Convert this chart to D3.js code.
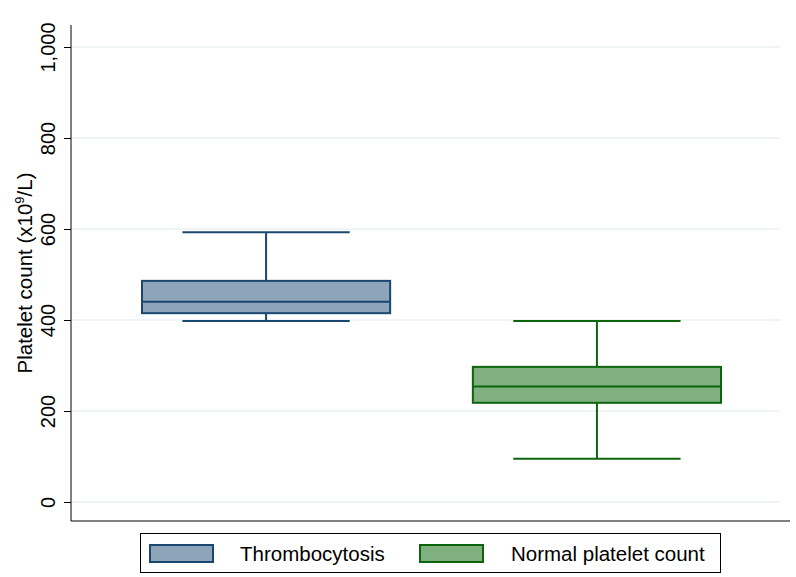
<!DOCTYPE html>
<html><head><meta charset="utf-8">
<script src="https://cdn.jsdelivr.net/npm/d3@7/dist/d3.min.js"></script>
<style>body{margin:0;background:#fff}svg{display:block}text{font-family:"Liberation Sans",Arial,sans-serif}</style>
</head><body><svg id="c" width="796" height="577"></svg>
<script>
const categories = ["Thrombocytosis", "Normal platelet count"];
const whiskerLow = [398, 95];
const q1 = [415, 218];
const median = [440, 254];
const q3 = [486, 297];
const whiskerHigh = [593, 398];
const yTicks = [0, 200, 400, 600, 800, 1000];
const fills = ["#8ea4b8", "#80b080"];
const strokes = ["#1a476f", "#0c640c"];

const svg = d3.select("#c");
const y = d3.scaleLinear().domain([0, 1000]).range([502, 47]);
const x = d3.scaleBand().domain(categories).range([142, 721]).paddingInner(0.25).paddingOuter(0);
const pLeft = 71, pRight = 790, pTop = 25, pBottom = 521;

// grid
svg.append("g").selectAll("line").data(yTicks).join("line")
  .attr("x1", pLeft + 1).attr("x2", 780)
  .attr("y1", d => y(d)).attr("y2", d => y(d))
  .attr("stroke", "#eaf2f3").attr("stroke-width", 1.5);

// axes
const ya = svg.append("g").attr("transform", `translate(${pLeft},0)`)
  .call(d3.axisLeft(y).tickValues(yTicks).tickSize(7).tickFormat(d3.format(",")));
ya.select(".domain").attr("d", `M0,${pTop}V${pBottom}`).attr("stroke", "#000");
ya.selectAll(".tick line").attr("stroke", "#000");
ya.selectAll(".tick text").attr("font-size", 20).attr("fill", "#000")
  .attr("transform", "rotate(-90)").attr("text-anchor", "middle")
  .attr("x", 0).attr("y", -16).attr("dy", "0");
svg.append("line").attr("x1", pLeft).attr("x2", pRight).attr("y1", pBottom).attr("y2", pBottom).attr("stroke", "#000");

// axis title
const t = svg.append("text").attr("transform", `translate(32,${(pTop + pBottom) / 2}) rotate(-90)`)
  .attr("text-anchor", "middle").attr("font-size", 20.5).attr("fill", "#000");
t.append("tspan").text("Platelet count (x10");
t.append("tspan").text("9").attr("font-size", 13).attr("dy", -8);
t.append("tspan").text("/L)").attr("dy", 8);

// boxes
categories.forEach((c, i) => {
  const g = svg.append("g");
  const x0 = x(c), w = x.bandwidth(), cx = x0 + w / 2, cap = w * 0.337;
  const s = strokes[i];
  g.append("line").attr("x1", cx).attr("x2", cx).attr("y1", y(whiskerHigh[i])).attr("y2", y(q3[i])).attr("stroke", s).attr("stroke-width", 2);
  g.append("line").attr("x1", cx).attr("x2", cx).attr("y1", y(q1[i])).attr("y2", y(whiskerLow[i])).attr("stroke", s).attr("stroke-width", 2);
  g.append("line").attr("x1", cx - cap).attr("x2", cx + cap).attr("y1", y(whiskerHigh[i])).attr("y2", y(whiskerHigh[i])).attr("stroke", s).attr("stroke-width", 2);
  g.append("line").attr("x1", cx - cap).attr("x2", cx + cap).attr("y1", y(whiskerLow[i])).attr("y2", y(whiskerLow[i])).attr("stroke", s).attr("stroke-width", 2);
  g.append("rect").attr("x", x0).attr("width", w).attr("y", y(q3[i])).attr("height", y(q1[i]) - y(q3[i]))
    .attr("fill", fills[i]).attr("stroke", s).attr("stroke-width", 2);
  g.append("line").attr("x1", x0).attr("x2", x0 + w).attr("y1", y(median[i])).attr("y2", y(median[i])).attr("stroke", s).attr("stroke-width", 2);
});

// legend
svg.append("rect").attr("x", 140.5).attr("y", 533.5).attr("width", 580).attr("height", 39)
  .attr("fill", "#fff").attr("stroke", "#000").attr("stroke-width", 1);
const legX = [150, 420], legTX = [240, 511];
categories.forEach((c, i) => {
  svg.append("rect").attr("x", legX[i]).attr("y", 545).attr("width", 63).attr("height", 17)
    .attr("fill", fills[i]).attr("stroke", strokes[i]).attr("stroke-width", 2);
  svg.append("text").attr("x", legTX[i]).attr("y", 561).attr("font-size", 20.5).attr("fill", "#000").text(c);
});
</script></body></html>
